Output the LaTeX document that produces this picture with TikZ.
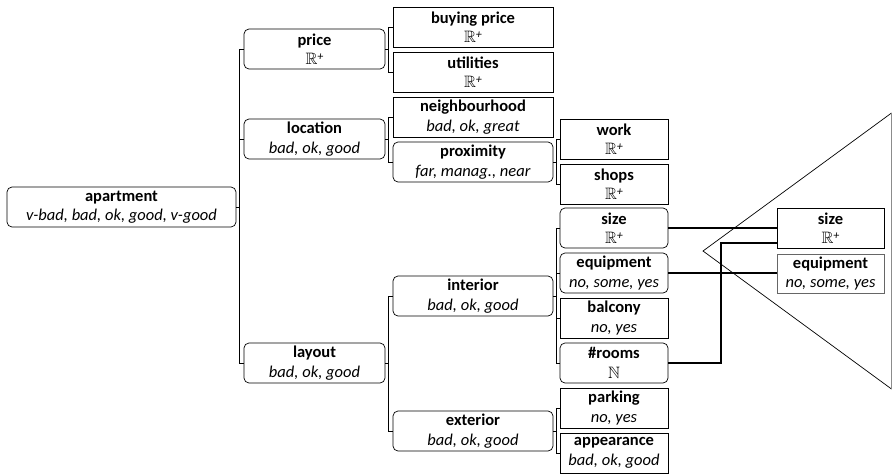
\documentclass[tikz,border=0pt]{standalone}
\usepackage{amssymb}
\usepackage{fontspec}
\setmainfont{Carlito}
\newcommand\attr[2]{\textbf{#1}\\\textit{#2}}
\newcommand\preal{$\mathbb{R}$\raisebox{0.45ex}{\fontsize{12}{12}\selectfont +}}
\tikzset{
  box/.style={draw, line width=0.7pt, inner sep=0pt, align=center,
    minimum height=40pt, font=\fontsize{16.5}{19.5}\selectfont},
  rbox/.style={box, rounded corners=5pt},
  tree/.style={line width=0.7pt},
  link/.style={line width=1.4pt},
  cone/.style={line width=0.7pt}
}
\begin{document}
\begin{tikzpicture}[x=1pt, y=-1pt]
\useasboundingbox (0,0) rectangle (892,475);

% root and first level
\node[rbox, minimum width=229pt] (apt) at (121.5,207) {\attr{apartment}{v-bad, bad, ok, good, v-good}};
\node[rbox, minimum width=141pt] (price) at (314.5,49) {\attr{price}{\preal}};
\node[rbox, minimum width=141pt] (loc) at (314.5,139) {\attr{location}{bad, ok, good}};
\node[rbox, minimum width=141pt] (lay) at (314.5,363) {\attr{layout}{bad, ok, good}};

% second level
\node[box, minimum width=160pt] (buy) at (473,27) {\attr{buying price}{\preal}};
\node[box, minimum width=160pt] (util) at (473,72) {\attr{utilities}{\preal}};
\node[box, minimum width=160pt] (neigh) at (473,117) {\attr{neighbourhood}{bad, ok, great}};
\node[rbox, minimum width=160pt] (prox) at (473,162) {\attr{proximity}{far, manag., near}};
\node[rbox, minimum width=160pt] (int) at (473,296) {\attr{interior}{bad, ok, good}};
\node[rbox, minimum width=160pt] (ext) at (473,431) {\attr{exterior}{bad, ok, good}};

% third level
\node[box, minimum width=108pt] (work) at (614,139) {\attr{work}{\preal}};
\node[box, minimum width=108pt] (shops) at (614,184) {\attr{shops}{\preal}};
\node[rbox, minimum width=108pt] (size) at (614,228) {\attr{size}{\preal}};
\node[rbox, minimum width=108pt] (equip) at (614,273) {\attr{equipment}{no, some, yes}};
\node[box, minimum width=108pt] (balc) at (614,318) {\attr{balcony}{no, yes}};
\node[rbox, minimum width=108pt] (rooms) at (614,363) {\attr{\#rooms}{$\mathbb{N}$}};
\node[box, minimum width=108pt] (park) at (614,408) {\attr{parking}{no, yes}};
\node[box, minimum width=108pt] (appear) at (614,453) {\attr{appearance}{bad, ok, good}};

% reduced model on the right
\node[box, minimum width=107pt] (sizeB) at (830.5,228) {\attr{size}{\preal}};
\node[box, draw=black!60, minimum width=107pt, minimum height=39pt] (equipB) at (830.5,273.5) {\attr{equipment}{no, some, yes}};

% tree brackets
\draw[tree] (price.west) -- ++(-4,0) |- (lay.west);
\draw[tree] (loc.west) -- ++(-4,0);
\draw[tree] (apt.east) -- ++(4,0);

\draw[tree] (buy.west) -- ++(-4,0) |- (util.west);
\draw[tree] (price.east) -- ++(4,0);
\draw[tree] (neigh.west) -- ++(-4,0) |- (prox.west);
\draw[tree] (loc.east) -- ++(4,0);
\draw[tree] (int.west) -- ++(-4,0) |- (ext.west);
\draw[tree] (lay.east) -- ++(4,0);

\draw[tree] (work.west) -- ++(-3,0) |- (shops.west);
\draw[tree] (prox.east) -- ++(4,0);
\draw[tree] (size.west) -- ++(-3,0) |- (rooms.west);
\draw[tree] (equip.west) -- ++(-3,0);
\draw[tree] (balc.west) -- ++(-3,0);
\draw[tree] (int.east) -- ++(4,0);
\draw[tree] (park.west) -- ++(-3,0) |- (appear.west);
\draw[tree] (ext.east) -- ++(4,0);

% links to the reduced model
\coordinate (jog) at (721,243);
\draw[link] (size.east) -- (sizeB.west);
\draw[link] (equip.east) -- (equip.east -| equipB.west);
\draw[link] (rooms.east) -| (jog) -- (jog -| sizeB.west);

% cone
\coordinate (apex) at (703,251);
\coordinate (ctop) at (891.5,113);
\coordinate (cbot) at (891.5,389);
\draw[cone] (ctop) -- (apex) -- (cbot);
\draw[cone, black!45] (ctop) -- (cbot);
\end{tikzpicture}
\end{document}
